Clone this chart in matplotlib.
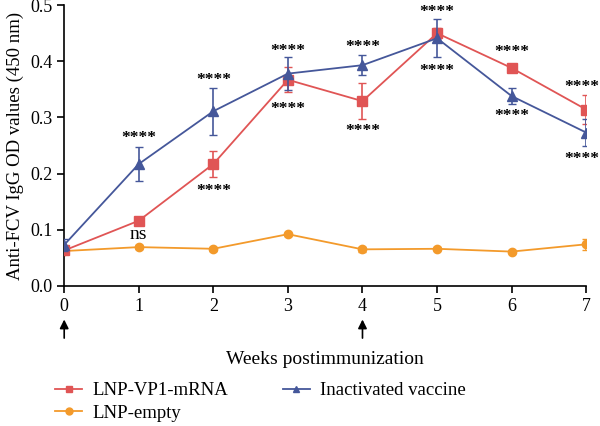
import matplotlib
matplotlib.use("Agg")
import matplotlib.pyplot as plt
from matplotlib.lines import Line2D

plt.rcParams["font.family"] = ["Liberation Serif", "DejaVu Serif"]

weeks = [0, 1, 2, 3, 4, 5, 6, 7]

mrna = [0.063, 0.116, 0.217, 0.367, 0.329, 0.450, 0.388, 0.314]
mrna_err = [0.004, 0.004, 0.023, 0.022, 0.032, 0.010, 0.006, 0.026]

inact = [0.073, 0.217, 0.311, 0.378, 0.393, 0.441, 0.338, 0.273]
inact_err = [0.011, 0.030, 0.042, 0.030, 0.018, 0.034, 0.015, 0.024]

empty = [0.062, 0.069, 0.066, 0.092, 0.065, 0.066, 0.061, 0.074]
empty_err = [0.003, 0.003, 0.004, 0.003, 0.004, 0.003, 0.003, 0.010]

# significance labels: (week, y, text)
sig_labels = [
    (1, 0.270, "****"), (1, 0.092, "ns"),
    (2, 0.176, "****"), (2, 0.373, "****"),
    (3, 0.425, "****"), (3, 0.322, "****"),
    (4, 0.432, "****"), (4, 0.283, "****"),
    (5, 0.494, "****"), (5, 0.390, "****"),
    (6, 0.424, "****"), (6, 0.310, "****"),
    (7, 0.362, "****"), (7, 0.233, "****"),
]
boost_weeks = [0, 4]

RED = "#e05555"
BLUE = "#45579a"
ORANGE = "#f39a2b"

fig = plt.figure(figsize=(6, 4.26), dpi=100)
ax = fig.add_axes([0.107, 0.329, 0.870, 0.659])

ax.errorbar(weeks, mrna, yerr=mrna_err, color=RED, marker="s", ms=6.5,
            lw=1.3, capsize=3, elinewidth=1.2, zorder=3)
ax.errorbar(weeks, empty, yerr=empty_err, color=ORANGE, marker="o", ms=6,
            lw=1.3, capsize=3, elinewidth=1.2, zorder=2)
ax.errorbar(weeks, inact, yerr=inact_err, color=BLUE, marker="^", ms=6.5,
            lw=1.3, capsize=3, elinewidth=1.2, zorder=4)

for wk, yv, txt in sig_labels:
    if txt == "ns":
        ax.text(wk, yv, txt, ha="center", va="center", fontsize=14)
    else:
        # last column sits on the figure edge, pull it in a touch
        xpos = wk - 0.06 if wk == weeks[-1] else wk
        # Liberation Serif asterisks sit high, nudge down a bit
        ax.text(xpos, yv - 0.007, txt, ha="center", va="center", fontsize=12.5,
                fontweight="bold")

ax.set_xlim(0, 7)
ax.set_ylim(0, 0.5)
ax.set_xticks(weeks)
ax.set_yticks([0.0, 0.1, 0.2, 0.3, 0.4, 0.5])
ax.set_yticklabels(["0.0", "0.1", "0.2", "0.3", "0.4", "0.5"])
ax.tick_params(labelsize=13, width=1.2, length=5)
for s in ("top", "right"):
    ax.spines[s].set_visible(False)
for s in ("left", "bottom"):
    ax.spines[s].set_linewidth(1.2)

ax.set_ylabel("Anti-FCV IgG OD values (450 nm)", fontsize=13.5, labelpad=4)
ax.set_xlabel("Weeks postimmunization", fontsize=14, labelpad=26)

for wk in boost_weeks:
    ax.annotate("", xy=(wk, -0.055), xytext=(wk, -0.098),
                xycoords="data", textcoords="data",
                arrowprops=dict(arrowstyle="-|>", color="black", lw=1.2,
                                mutation_scale=13),
                annotation_clip=False)

handles = [
    Line2D([], [], color=RED, marker="s", ms=5, lw=1.3),
    Line2D([], [], color=ORANGE, marker="o", ms=5, lw=1.3),
    Line2D([], [], color=BLUE, marker="^", ms=5, lw=1.3),
]
labels = ["LNP-VP1-mRNA", "LNP-empty", "Inactivated vaccine"]
fig.legend(handles, labels, loc="upper left", bbox_to_anchor=(0.092, 0.103),
           ncol=2, frameon=False, fontsize=13.5, handlelength=1.45,
           columnspacing=2.9, labelspacing=0.3, borderpad=0.0,
           borderaxespad=0.0, handletextpad=0.55)

fig.savefig("out.png", dpi=100)
